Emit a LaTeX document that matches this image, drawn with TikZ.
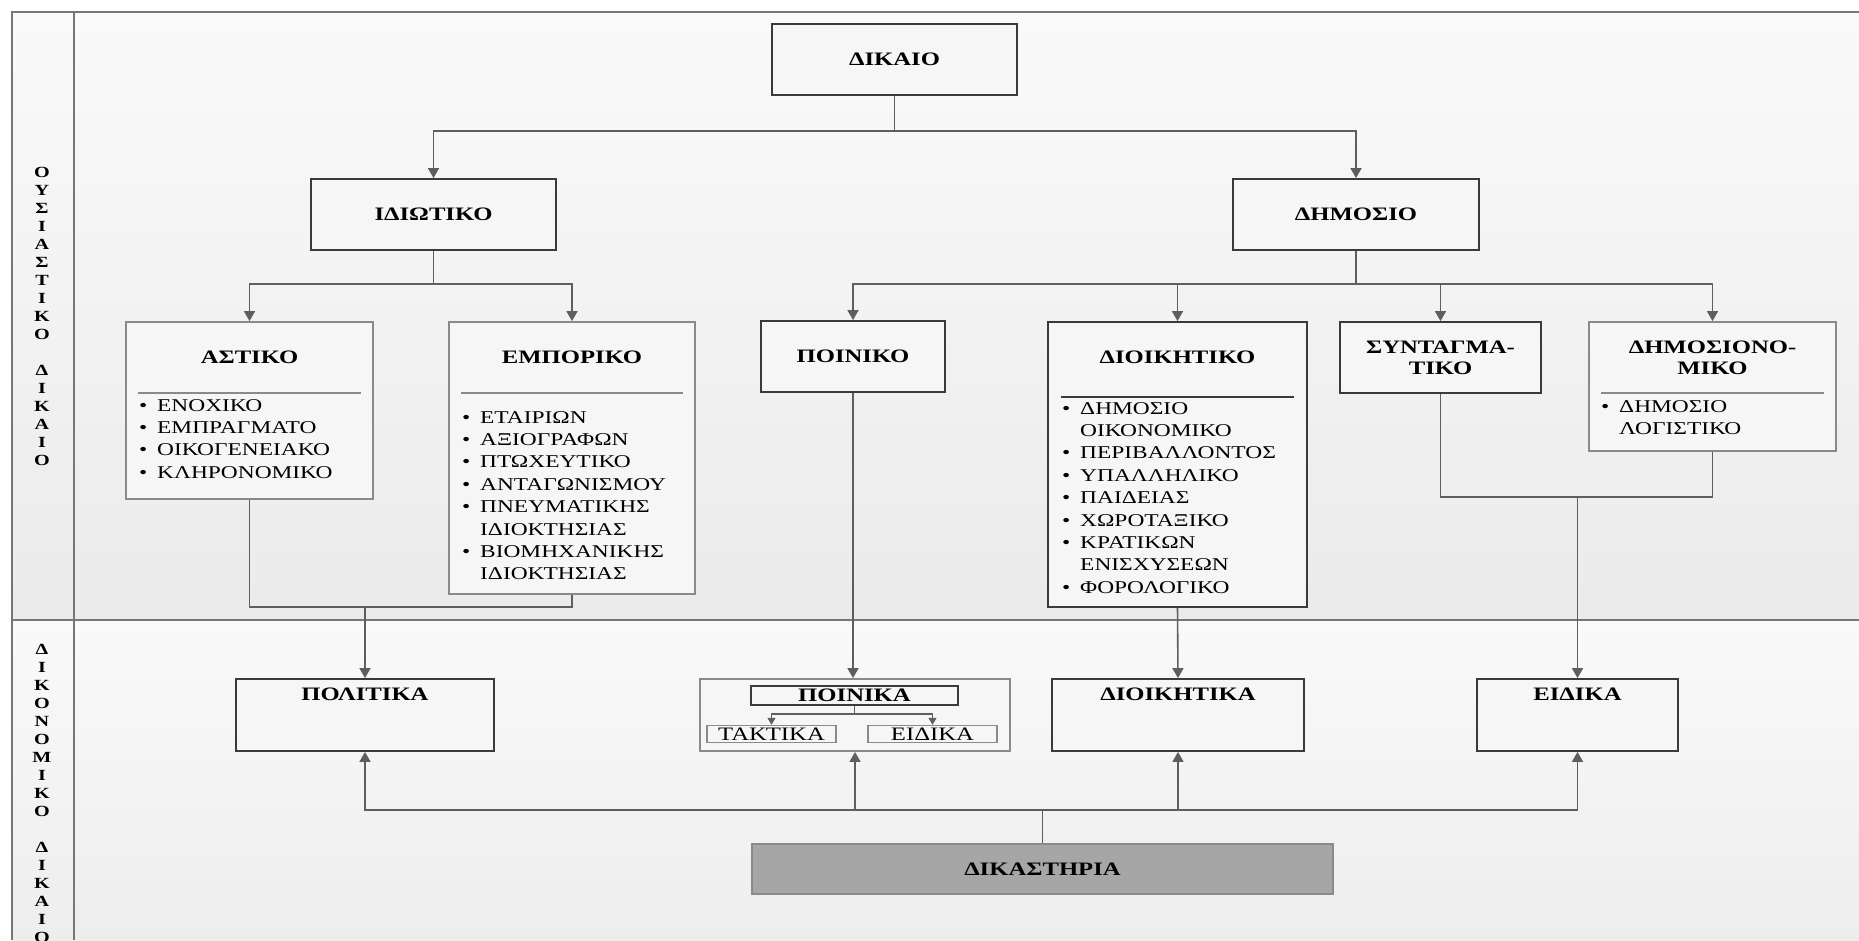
\documentclass[tikz,border=0pt]{standalone}
\usepackage{fontspec}
\setmainfont{Liberation Serif}[FakeStretch=1.3]
\usetikzlibrary{arrows.meta}
\definecolor{bdark}{HTML}{3A3A3A}
\definecolor{blite}{HTML}{8A8A8A}
\definecolor{conn}{HTML}{5E5E5E}
\definecolor{frm}{HTML}{767676}
\definecolor{boxfill}{HTML}{F6F6F6}
\definecolor{courtfill}{HTML}{A6A6A6}
\newcommand\bul{\makebox[18pt][l]{•}}
\newcommand\cnt{\hspace*{18pt}}
\tikzset{
  darkbox/.style={draw=bdark, line width=1.8pt, fill=boxfill, inner sep=0pt},
  litebox/.style={draw=blite, line width=1.8pt, fill=boxfill, inner sep=0pt},
  ttl/.style={font=\fontsize{19}{21}\selectfont\bfseries, align=center, inner sep=0pt},
  lst/.style={anchor=north west, align=left, inner sep=0pt, font=\fontsize{18}{22.4}\selectfont},
  side/.style={font=\fontsize{15.5}{18}\selectfont\bfseries, align=center, inner sep=0pt},
  link/.style={draw=conn, line width=1.6pt},
  arr/.style={link, -{Triangle[length=10pt,width=11pt]}},
  sarr/.style={link, line width=1.3pt, -{Triangle[length=7pt,width=8pt]}},
  sepline/.style={draw=blite, line width=1.6pt},
  frame/.style={draw=frm, line width=1.5pt}
}
\begin{document}
\begin{tikzpicture}[x=1pt,y=-1pt]
\useasboundingbox (0,0) rectangle (1859,940);
% backgrounds
\shade[top color=white!98!black, bottom color=white!92!black] (12,12) rectangle (1859,620);
\shade[top color=white!98!black, bottom color=white!93!black] (12,620) rectangle (1859,940);
\draw[frame] (1859,12) -- (12,12) -- (12,940);
\draw[frame] (74,12) -- (74,940);
\draw[frame] (12,620) -- (1859,620);
% side labels
\node[side] (lab1) at (42,316) {Ο\\Υ\\Σ\\Ι\\Α\\Σ\\Τ\\Ι\\Κ\\Ο\\[18pt]Δ\\Ι\\Κ\\Α\\Ι\\Ο};
\node[side] (lab2) at (42,793) {Δ\\Ι\\Κ\\Ο\\Ν\\Ο\\Μ\\Ι\\Κ\\Ο\\[18pt]Δ\\Ι\\Κ\\Α\\Ι\\Ο};
% top level
\node[darkbox, ttl, minimum width=245pt, minimum height=71pt] (dikaio) at (894.5,59.5) {ΔΙΚΑΙΟ};
\node[darkbox, ttl, minimum width=245pt, minimum height=71pt] (idiotiko) at (433.5,214.5) {ΙΔΙΩΤΙΚΟ};
\node[darkbox, ttl, minimum width=246pt, minimum height=71pt] (dhmosio) at (1356,214.5) {ΔΗΜΟΣΙΟ};
% second level
\node[litebox, minimum width=247pt, minimum height=177pt] (astiko) at (249.5,410.5) {};
\node[ttl] (astikoT) at (249.5,357) {ΑΣΤΙΚΟ};
\draw[sepline] (138,393) -- (361,393);
\node[lst] (astikoL) at (139,399) {\bul ΕΝΟΧΙΚΟ\\\bul ΕΜΠΡΑΓΜΑΤΟ\\\bul ΟΙΚΟΓΕΝΕΙΑΚΟ\\\bul ΚΛΗΡΟΝΟΜΙΚΟ};

\node[litebox, minimum width=246pt, minimum height=272pt] (emporiko) at (572,458) {};
\node[ttl] (emporikoT) at (572,357) {ΕΜΠΟΡΙΚΟ};
\draw[sepline] (461,393) -- (683,393);
\node[lst] (emporikoL) at (462,411) {\bul ΕΤΑΙΡΙΩΝ\\\bul ΑΞΙΟΓΡΑΦΩΝ\\\bul ΠΤΩΧΕΥΤΙΚΟ\\\bul ΑΝΤΑΓΩΝΙΣΜΟΥ\\\bul ΠΝΕΥΜΑΤΙΚΗΣ\\\cnt ΙΔΙΟΚΤΗΣΙΑΣ\\\bul ΒΙΟΜΗΧΑΝΙΚΗΣ\\\cnt ΙΔΙΟΚΤΗΣΙΑΣ};

\node[darkbox, ttl, minimum width=184pt, minimum height=71pt] (poiniko) at (853,356.5) {ΠΟΙΝΙΚΟ};

\node[darkbox, minimum width=259pt, minimum height=285pt] (dioikhtiko) at (1177.5,464.5) {};
\node[ttl] (dioikhtikoT) at (1177.5,357) {ΔΙΟΙΚΗΤΙΚΟ};
\draw[draw=bdark, line width=1.6pt] (1061,397) -- (1294,397);
\node[lst] (dioikhtikoL) at (1062,402) {\bul ΔΗΜΟΣΙΟ\\\cnt ΟΙΚΟΝΟΜΙΚΟ\\\bul ΠΕΡΙΒΑΛΛΟΝΤΟΣ\\\bul ΥΠΑΛΛΗΛΙΚΟ\\\bul ΠΑΙΔΕΙΑΣ\\\bul ΧΩΡΟΤΑΞΙΚΟ\\\bul ΚΡΑΤΙΚΩΝ\\\cnt ΕΝΙΣΧΥΣΕΩΝ\\\bul ΦΟΡΟΛΟΓΙΚΟ};

\node[darkbox, ttl, minimum width=201pt, minimum height=71pt] (syntagmatiko) at (1440.5,357.5) {ΣΥΝΤΑΓΜΑ-\\ΤΙΚΟ};

\node[litebox, minimum width=247pt, minimum height=129pt] (dhmosionomiko) at (1712.5,386.5) {};
\node[ttl] (dhmosionomikoT) at (1712.5,357.5) {ΔΗΜΟΣΙΟΝΟ-\\ΜΙΚΟ};
\draw[sepline] (1601,393) -- (1824,393);
\node[lst] (dhmosionomikoL) at (1601,400) {\bul ΔΗΜΟΣΙΟ\\\cnt ΛΟΓΙΣΤΙΚΟ};

% courts level
\node[darkbox, minimum width=258pt, minimum height=72pt] (politika) at (365,715) {};
\node[ttl] (politikaT) at (365,694) {ΠΟΛΙΤΙΚΑ};

\node[litebox, minimum width=310pt, minimum height=72pt] (poinika) at (855,715) {};
\node[darkbox, line width=1.6pt, ttl, minimum width=207pt, minimum height=19pt] (pk) at (854.5,695.5) {ΠΟΙΝΙΚΑ};
\node[litebox, line width=1.4pt, font=\fontsize{19}{21}\selectfont, minimum width=129pt, minimum height=17pt] (taktika) at (771.5,734) {ΤΑΚΤΙΚΑ};
\node[litebox, line width=1.4pt, font=\fontsize{19}{21}\selectfont, minimum width=129pt, minimum height=17pt] (eidikaS) at (932.5,734) {ΕΙΔΙΚΑ};

\node[darkbox, minimum width=252pt, minimum height=72pt] (dioikhtika) at (1178,715) {};
\node[ttl] (dioikhtikaT) at (1178,694) {ΔΙΟΙΚΗΤΙΚΑ};

\node[darkbox, minimum width=201pt, minimum height=72pt] (eidika) at (1577.5,715) {};
\node[ttl] (eidikaT) at (1577.5,694) {ΕΙΔΙΚΑ};

\node[draw=blite, line width=1.6pt, fill=courtfill, ttl, minimum width=581pt, minimum height=50pt] (dikasthria) at (1042.5,869) {ΔΙΚΑΣΤΗΡΙΑ};

% connectors
\coordinate (j1) at (894.5,131);
\draw[link] (dikaio.south) -- (j1);
\draw[arr] (j1) -| (idiotiko.north);
\draw[arr] (j1) -| (dhmosio.north);

\coordinate (j2) at (433.5,284);
\draw[link] (idiotiko.south) -- (j2);
\draw[arr] (j2) -| (astiko.north);
\draw[arr] (j2) -| (emporiko.north);

\coordinate (j3) at (1356,284);
\draw[link] (dhmosio.south) -- (j3);
\draw[arr] (j3) -| (poiniko.north);
\draw[arr] (j3) -| (dioikhtiko.north);
\draw[arr] (j3) -| (syntagmatiko.north);
\draw[arr] (j3) -| (dhmosionomiko.north);

\coordinate (j4) at (365,607);
\draw[link] (astiko.south) |- (j4) -| (emporiko.south);
\draw[arr] (j4) -- (politika.north);

\draw[arr] (poiniko.south) -- (poiniko.south |- poinika.north);
\draw[arr] (dioikhtiko.south) -- (dioikhtika.north);

\coordinate (j5) at (1577.5,497);
\draw[link] (syntagmatiko.south) |- (j5) -| (dhmosionomiko.south);
\draw[arr] (j5) -- (eidika.north);

\coordinate (j6) at (1042.5,810);
\draw[link] (dikasthria.north) -- (j6);
\draw[arr] (j6) -| (politika.south);
\draw[arr] (j6) -| (eidika.south);
\draw[arr] (poinika.south |- j6) -- (poinika.south);
\draw[arr] (dioikhtika.south |- j6) -- (dioikhtika.south);

\coordinate (j7) at (854.5,714);
\draw[link, line width=1.3pt] (pk.south) -- (j7);
\draw[sarr] (j7) -| (taktika.north);
\draw[sarr] (j7) -| (eidikaS.north);
\end{tikzpicture}
\end{document}
